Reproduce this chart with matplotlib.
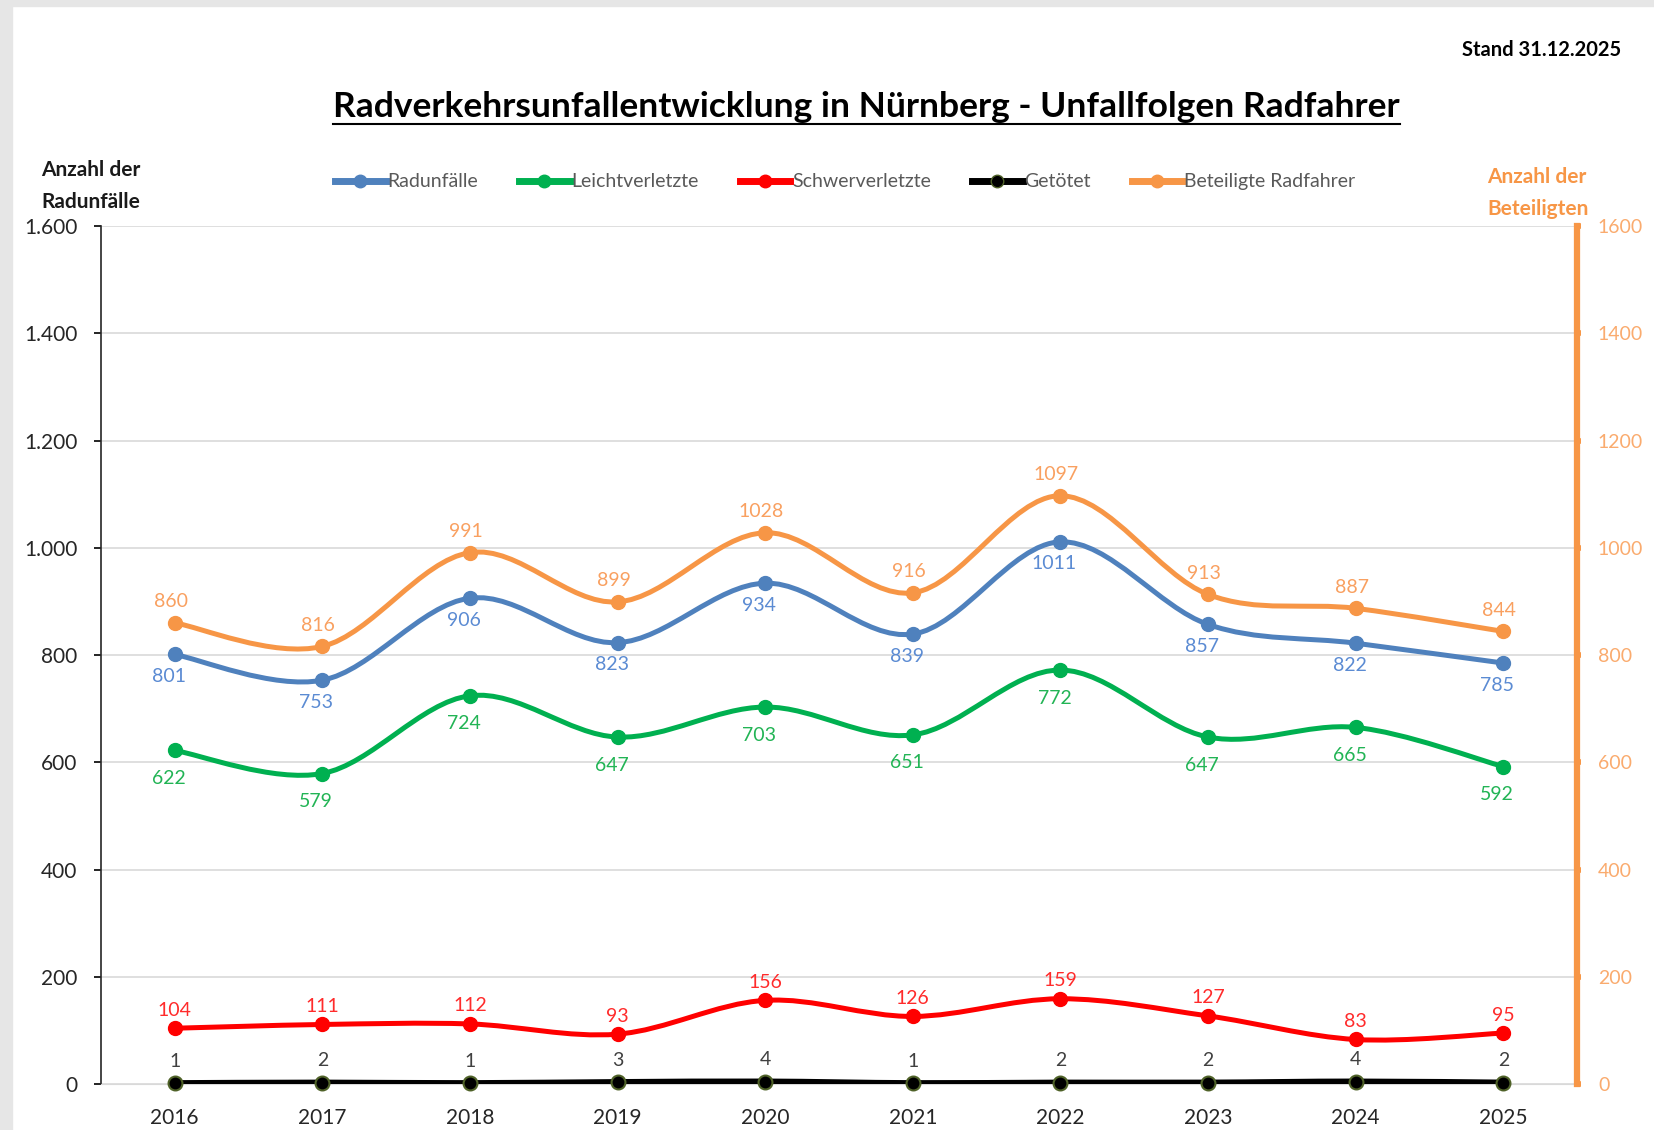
import matplotlib.pyplot as plt
import numpy as np
from matplotlib.path import Path
from matplotlib.patches import PathPatch, Rectangle
from matplotlib.lines import Line2D
from matplotlib.ticker import FuncFormatter

plt.rcParams['font.family'] = ['Lato', 'DejaVu Sans']

jahre = ["2016", "2017", "2018", "2019", "2020", "2021", "2022", "2023", "2024", "2025"]
radunfaelle = [801, 753, 906, 823, 934, 839, 1011, 857, 822, 785]
leichtverletzte = [622, 579, 724, 647, 703, 651, 772, 647, 665, 592]
schwerverletzte = [104, 111, 112, 93, 156, 126, 159, 127, 83, 95]
getoetet = [1, 2, 1, 3, 4, 1, 2, 2, 4, 2]
beteiligte = [860, 816, 991, 899, 1028, 916, 1097, 913, 887, 844]

blau = "#4F81BD"
gruen = "#00B050"
rot = "#FF0000"
schwarz = "#000000"
orange = "#F79646"


def smooth_line(ax, y, color, lw=3.6, z=3):
    # excel-like smoothed line (bezier through the points)
    pts = np.column_stack([np.arange(len(y)), y]).astype(float)
    p = np.vstack([pts[0], pts, pts[-1]])
    verts = [pts[0]]
    codes = [Path.MOVETO]
    for i in range(len(pts) - 1):
        c1 = p[i + 1] + (p[i + 2] - p[i]) / 6
        c2 = p[i + 2] - (p[i + 3] - p[i + 1]) / 6
        verts += [c1, c2, p[i + 2]]
        codes += [Path.CURVE4] * 3
    ax.add_patch(PathPatch(Path(verts, codes), fill=False, edgecolor=color, lw=lw,
                           zorder=z, capstyle='round', joinstyle='round'))


def labels(ax, y, color, dx, dy):
    for i, v in enumerate(y):
        ax.annotate(str(v), (i, v), xytext=(dx, dy), textcoords='offset pixels',
                    ha='center', va='center', color=color, fontsize=14, zorder=6)


fig = plt.figure(figsize=(16.54, 11.30), dpi=100)
fig.patches.append(Rectangle((0, 0), 12 / 1654, 1, transform=fig.transFigure,
                             color="#E6E6E6", zorder=0))
fig.patches.append(Rectangle((0, 1 - 6 / 1130), 1, 6 / 1130, transform=fig.transFigure,
                             color="#E6E6E6", zorder=0))

ax = fig.add_axes([0.061, 0.0407, 0.8925, 0.7593])
ax2 = ax.twinx()

x = np.arange(len(jahre))
for a in (ax, ax2):
    a.set_xlim(-0.5, len(jahre) - 0.5)
    a.set_ylim(0, 1600)

ax.set_yticks(range(0, 1601, 200))
ax.yaxis.set_major_formatter(FuncFormatter(lambda v, p: f"{v:,.0f}".replace(",", ".")))
ax.grid(axis='y', color="#D9D9D9", lw=1.2)
ax.set_axisbelow(True)
ax.set_xticks(x)
ax.set_xticklabels(jahre, fontsize=15, color="#262626")
ax.tick_params(axis='x', length=0, pad=17)
ax.tick_params(axis='y', labelsize=15, labelcolor="#262626", length=5, width=1.2, pad=12)
ax.spines['top'].set_visible(False)
ax.spines['right'].set_visible(False)
ax.spines['bottom'].set_color("#D9D9D9")
ax.spines['left'].set_color("#262626")
ax.spines['left'].set_linewidth(1.2)

ax2.set_yticks(range(0, 1601, 200))
ax2.tick_params(axis='y', labelsize=14, labelcolor="#FAAB6E", color=orange,
                length=3, width=4, pad=12)
for s in ('top', 'left', 'bottom'):
    ax2.spines[s].set_visible(False)
ax2.spines['right'].set_color(orange)
ax2.spines['right'].set_linewidth(4.5)

# lines
smooth_line(ax, radunfaelle, blau)
smooth_line(ax, leichtverletzte, gruen)
smooth_line(ax, schwerverletzte, rot)
smooth_line(ax, getoetet, schwarz, lw=4.8)
smooth_line(ax2, beteiligte, orange)

ms = 10
ax.plot(x, radunfaelle, 'o', color=blau, ms=ms, zorder=4)
ax.plot(x, leichtverletzte, 'o', color=gruen, ms=ms, zorder=4)
ax.plot(x, schwerverletzte, 'o', color=rot, ms=ms, zorder=4)
ax.plot(x, getoetet, 'o', color=schwarz, mec="#4F6228", mew=1.5, ms=ms, zorder=4,
        clip_on=False)
ax2.plot(x, beteiligte, 'o', color=orange, ms=ms, zorder=4)

labels(ax, radunfaelle, "#5B8BD3", -6, -22)
labels(ax, leichtverletzte, "#22B455", -6, -28)
labels(ax, schwerverletzte, "#FF2B2B", 0, 18)
labels(ax, getoetet, "#404040", 0, 22)
labels(ax2, beteiligte, "#F9A060", -4, 21)

# legend
namen = ["Radunfälle", "Leichtverletzte", "Schwerverletzte", "Getötet", "Beteiligte Radfahrer"]
farben = [blau, gruen, rot, schwarz, orange]
handles = []
for n, c in zip(namen, farben):
    mec = "#4F6228" if c == schwarz else c
    handles.append(Line2D([], [], color=c, lw=5, marker='o', ms=9, mec=mec, label=n))
fig.legend(handles=handles, loc='center', bbox_to_anchor=(0.511, 0.839), ncol=5,
           frameon=False, fontsize=14, labelcolor="#595959", handlelength=2.6,
           handletextpad=0.1, columnspacing=2.1)

# texts
titel = fig.text(0.524, 0.905, "Radverkehrsunfallentwicklung in Nürnberg - Unfallfolgen Radfahrer",
                 ha='center', va='center', fontsize=25.5, fontweight='bold', color="#000000")
fig.text(0.980, 0.956, "Stand 31.12.2025", ha='right', va='center', fontsize=14.5,
         fontweight='bold', color="#000000")
fig.text(0.025, 0.835, "Anzahl der\nRadunfälle", ha='left', va='center', fontsize=15,
         fontweight='bold', color="#1A1A1A", linespacing=1.75)
fig.text(0.899, 0.829, "Anzahl der\nBeteiligten", ha='left', va='center', fontsize=15,
         fontweight='bold', color="#F79646", linespacing=1.75)

fig.canvas.draw()
bb = titel.get_window_extent().transformed(fig.transFigure.inverted())
fig.add_artist(Line2D([bb.x0, bb.x1], [bb.y0 - 0.001, bb.y0 - 0.001],
                      transform=fig.transFigure, color="#000000", lw=1.5))

fig.savefig("out.png", dpi=100, facecolor="white")
